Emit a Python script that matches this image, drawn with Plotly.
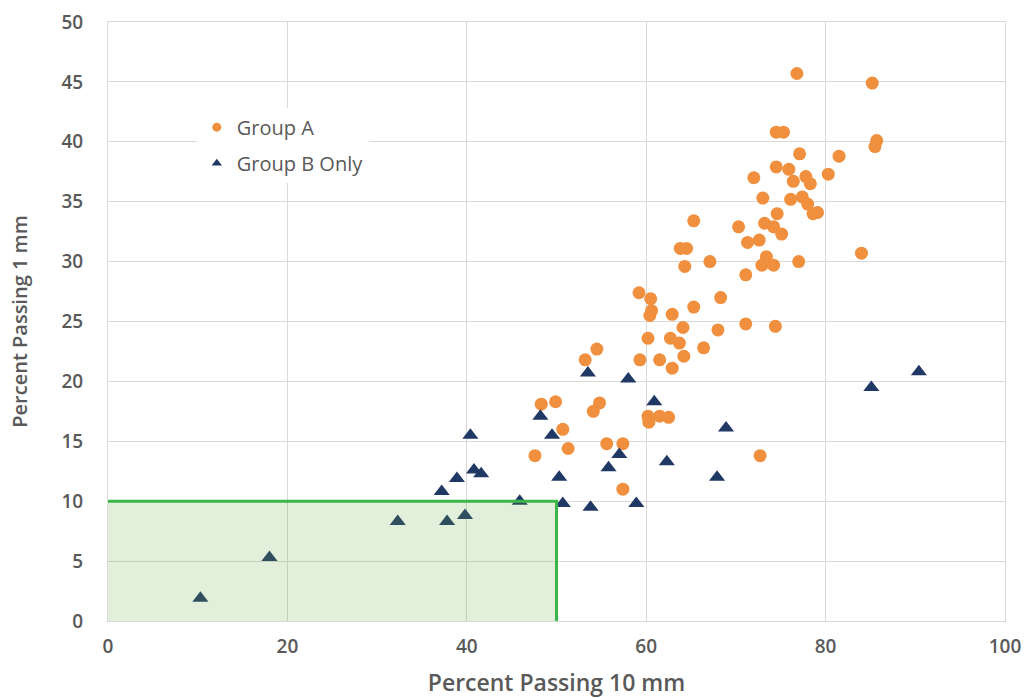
import plotly.graph_objects as go

# Group A (orange circles): Percent passing 10 mm / 1 mm
group_a_x = [76.8, 85.2, 74.5, 75.3, 85.7, 85.5, 77.1, 81.5, 74.5, 75.9,
             72.0, 76.4, 77.8, 78.3, 80.3, 73.0, 76.1, 77.4, 78.0, 78.6,
             79.1, 74.6, 65.3, 70.3, 73.2, 74.2, 75.1, 71.3, 72.6, 84.0,
             63.8, 64.5, 64.3, 67.1, 73.4, 72.9, 74.2, 77.0, 71.1, 59.2,
             60.5, 60.6, 60.4, 62.9, 65.3, 68.3, 64.1, 68.0, 71.1, 74.4,
             60.2, 62.7, 63.7, 66.4, 54.5, 53.2, 59.3, 61.5, 64.2, 62.9,
             48.3, 49.9, 54.8, 54.1, 60.2, 61.5, 62.5, 60.3, 50.7, 51.3,
             47.6, 55.6, 57.4, 72.7, 57.4]
group_a_y = [45.7, 44.9, 40.8, 40.8, 40.1, 39.6, 39.0, 38.8, 37.9, 37.7,
             37.0, 36.7, 37.1, 36.5, 37.3, 35.3, 35.2, 35.4, 34.8, 34.0,
             34.1, 34.0, 33.4, 32.9, 33.2, 32.9, 32.3, 31.6, 31.8, 30.7,
             31.1, 31.1, 29.6, 30.0, 30.4, 29.7, 29.7, 30.0, 28.9, 27.4,
             26.9, 25.9, 25.5, 25.6, 26.2, 27.0, 24.5, 24.3, 24.8, 24.6,
             23.6, 23.6, 23.2, 22.8, 22.7, 21.8, 21.8, 21.8, 22.1, 21.1,
             18.1, 18.3, 18.2, 17.5, 17.1, 17.1, 17.0, 16.6, 16.0, 14.4,
             13.8, 14.8, 14.8, 13.8, 11.0]

# Group B Only (navy triangles)
group_b_x = [53.5, 58.0, 60.9, 48.2, 68.9, 40.4, 49.5, 57.0, 62.3, 55.8,
             40.8, 41.6, 38.9, 50.3, 67.9, 37.2, 45.9, 50.7, 53.8, 58.9,
             32.3, 37.8, 39.8, 10.3, 18.0, 85.1, 90.4]
group_b_y = [20.7, 20.2, 18.3, 17.1, 16.1, 15.5, 15.5, 13.9, 13.3, 12.8,
             12.6, 12.3, 11.9, 12.0, 12.0, 10.8, 10.0, 9.8, 9.5, 9.8,
             8.3, 8.3, 8.8, 1.9, 5.3, 19.5, 20.8]

# Highlighted region limits
region_x_max = 50
region_y_max = 10

x_ticks = [0, 20, 40, 60, 80, 100]
y_ticks = [0, 5, 10, 15, 20, 25, 30, 35, 40, 45, 50]

ORANGE = "#F0903F"
NAVY = "#203864"
GREEN = "#3CB64A"
GRID = "#D9D9D9"
TEXT = "#595959"
FONT = "Open Sans"

fig = go.Figure()
fig.add_trace(go.Scatter(
    x=group_a_x, y=group_a_y, mode="markers", name="Group A",
    showlegend=False,
    marker=dict(symbol="circle", size=13, color=ORANGE),
))
fig.add_trace(go.Scatter(
    x=group_b_x, y=group_b_y, mode="markers", name="Group B Only",
    showlegend=False,
    marker=dict(symbol="triangle-up", size=14, color=NAVY),
))
# legend entries (smaller symbols, as in the reference legend)
fig.add_trace(go.Scatter(
    x=[None], y=[None], mode="markers", name="Group A", legendgroup="a",
    marker=dict(symbol="circle", size=9, color=ORANGE),
))
fig.add_trace(go.Scatter(
    x=[None], y=[None], mode="markers", name="Group B Only", legendgroup="b",
    marker=dict(symbol="triangle-up", size=9, color=NAVY),
))

fig.add_shape(type="rect", xref="x", yref="y", x0=0, y0=0,
              x1=region_x_max, y1=region_y_max,
              fillcolor="rgba(112,173,71,0.2)", line=dict(width=0),
              layer="above")
fig.add_shape(type="path", xref="x", yref="y",
              path=f"M 0,{region_y_max} L {region_x_max},{region_y_max} L {region_x_max},0",
              line=dict(color=GREEN, width=3), layer="above")

axis_common = dict(
    showgrid=True, gridcolor=GRID, gridwidth=1, automargin=False,
    zeroline=False, showline=True, linecolor=GRID, linewidth=1, mirror=True,
    ticks="", tickfont=dict(family=FONT, size=19, color=TEXT, weight=600),
)
fig.update_xaxes(range=[0, 100], tickvals=x_ticks, ticklabelstandoff=8,
                 title=dict(text="Percent Passing 10 mm", standoff=29,
                            font=dict(family=FONT, size=23, color=TEXT, weight=600)),
                 **axis_common)
fig.update_yaxes(range=[0, 50], tickvals=y_ticks, ticklabelstandoff=20,
                 title=dict(text="Percent Passing 1 mm", standoff=28,
                            font=dict(family=FONT, size=20, color=TEXT, weight=600)),
                 **axis_common)

fig.update_layout(
    width=1027, height=698,
    margin=dict(l=108, r=22, t=22, b=77),
    plot_bgcolor="white", paper_bgcolor="white",
    legend=dict(x=0.099, y=0.857, xanchor="left", yanchor="top",
                bgcolor="white", borderwidth=0, tracegroupgap=7,
                font=dict(family=FONT, size=20, color=TEXT)),
    showlegend=True,
)

fig.write_html("out.html", config={"displayModeBar": False},
               post_script="document.body.style.margin='0px';document.body.style.overflow='hidden';")
